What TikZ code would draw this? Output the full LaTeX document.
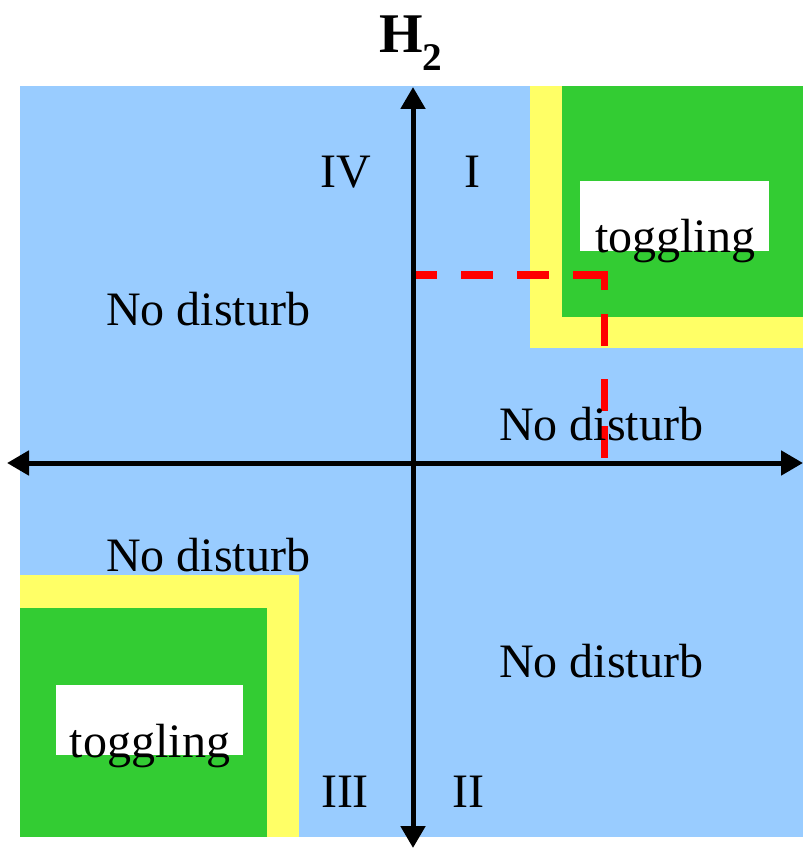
\documentclass[tikz,border=0pt]{standalone}
\usepackage{fontspec}
\setmainfont{Liberation Serif}
\usetikzlibrary{arrows.meta}
\definecolor{bgblue}{HTML}{99CCFF}
\definecolor{zyellow}{HTML}{FFFF66}
\definecolor{zgreen}{HTML}{33CC33}
\definecolor{zred}{HTML}{FF0000}
\tikzset{
  lbl/.style={anchor=base,inner sep=0pt,font=\fontsize{48}{56}\selectfont},
  axis/.style={line width=5pt,-{Triangle[length=22pt,width=24pt]}},
  reddash/.style={draw=zred,line width=7.5pt}
}
\begin{document}
\begin{tikzpicture}[x=1pt,y=-1pt]
\useasboundingbox (0,0) rectangle (803,848);
% background
\fill[bgblue] (20,86) rectangle (803,837);
% top-right region
\fill[zyellow] (530,86) rectangle (803,348);
\fill[zgreen] (562,86) rectangle (803,317);
\fill[white] (580,181) rectangle (769,251);
% bottom-left region
\fill[zyellow] (20,575) rectangle (299,837);
\fill[zgreen] (20,608) rectangle (267,837);
\fill[white] (56,685) rectangle (243,755);
% red dashed
\coordinate (r1) at (415,275);
\coordinate (r2) at (608,275);
\coordinate (r2v) at (604.5,271);
\coordinate (r3) at (604.5,458);
\draw[reddash,dash pattern=on 22pt off 24pt on 32pt off 24pt on 32pt off 24pt on 40pt off 10pt] (r1) -- (r2);
\draw[reddash,dash pattern=on 19pt off 24pt on 32pt off 33pt on 32pt off 15pt on 40pt off 10pt] (r2v) -- (r3);
% axes
\coordinate (o) at (413,463);
\coordinate (xl) at (7,463);
\coordinate (xr) at (803,463);
\coordinate (yt) at (413,87);
\coordinate (yb) at (413,848);
\draw[axis] (o) -- (xr);
\draw[axis] (o) -- (xl);
\draw[axis] (o) -- (yt);
\draw[axis] (o) -- (yb);
% labels
\node[lbl,font=\fontsize{56}{60}\selectfont\bfseries] (h2) at (411,53) {H\textsubscript{2}};
\node[lbl] (q4) at (346,187) {IV};
\node[lbl] (q1) at (472,187) {I};
\node[lbl] (q3) at (345,807) {III};
\node[lbl] (q2) at (468,807) {II};
\node[lbl] (nd1) at (208,325) {No disturb};
\node[lbl] (nd2) at (601,440) {No disturb};
\node[lbl] (nd3) at (208,571) {No disturb};
\node[lbl] (nd4) at (601,677) {No disturb};
\node[lbl] (tg1) at (675,252) {toggling};
\node[lbl] (tg2) at (150,757) {toggling};
\end{tikzpicture}
\end{document}
